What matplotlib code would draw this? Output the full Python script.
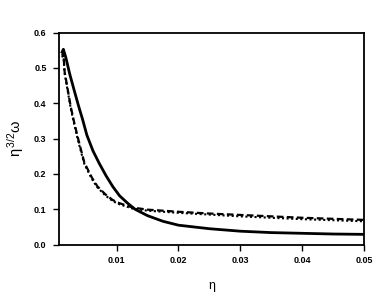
import matplotlib
matplotlib.use("Agg")
import matplotlib.pyplot as plt

plt.rcParams['font.family'] = ['Liberation Sans', 'DejaVu Sans']
plt.rcParams['mathtext.fontset'] = 'dejavusans'

# solid curve
x1 = [0.0012, 0.0014, 0.0018, 0.0024, 0.0031, 0.0039, 0.0045, 0.0052, 0.0062, 0.0072,
      0.0083, 0.0094, 0.0105, 0.0118, 0.013, 0.015, 0.0175, 0.02, 0.025, 0.03,
      0.035, 0.04, 0.045, 0.05]
y1 = [0.545, 0.553, 0.53, 0.485, 0.44, 0.39, 0.355, 0.31, 0.265, 0.23,
      0.195, 0.164, 0.138, 0.117, 0.10, 0.082, 0.066, 0.055, 0.045, 0.038,
      0.034, 0.032, 0.030, 0.029]

# dashed curve
x2 = [0.0012, 0.0014, 0.0016, 0.0021, 0.0026, 0.0031, 0.0037, 0.0043, 0.0048, 0.006,
      0.0069, 0.0082, 0.0094, 0.0105, 0.0126, 0.015, 0.02, 0.025, 0.03, 0.035,
      0.04, 0.045, 0.05]
y2 = [0.535, 0.545, 0.49, 0.44, 0.39, 0.35, 0.306, 0.265, 0.232, 0.19,
      0.165, 0.142, 0.126, 0.117, 0.105, 0.099, 0.093, 0.088, 0.084, 0.080,
      0.076, 0.073, 0.070]

# dotted curve
x3 = [0.0012, 0.0014, 0.0016, 0.0021, 0.0026, 0.0031, 0.0037, 0.0043, 0.0048, 0.006,
      0.0069, 0.0082, 0.0094, 0.0105, 0.0126, 0.015, 0.02, 0.025, 0.03, 0.035,
      0.04, 0.045, 0.05]
y3 = [0.53, 0.54, 0.485, 0.435, 0.385, 0.345, 0.30, 0.26, 0.228, 0.186,
      0.162, 0.139, 0.123, 0.114, 0.102, 0.096, 0.090, 0.085, 0.080, 0.076,
      0.072, 0.069, 0.066]

xticks = [0.01, 0.02, 0.03, 0.04, 0.05]
yticks = [0.0, 0.1, 0.2, 0.3, 0.4, 0.5, 0.6]

fig = plt.figure(figsize=(3.82, 2.97), dpi=100)
ax = fig.add_axes([0.1545, 0.1764, 0.7985, 0.7136])

ax.plot(x1, y1, color='black', lw=2.0, ls='-')
ax.plot(x2, y2, color='black', lw=1.6, ls=(0, (3, 1.5)))
ax.plot(x3, y3, color='black', lw=1.5, ls=(0, (1, 1.2)))

ax.set_xlim(0.0007, 0.05)
ax.set_ylim(0.0, 0.6)
ax.set_xticks(xticks)
ax.set_yticks(yticks)
ax.set_xticklabels(['%.2f' % v for v in xticks], fontsize=6.5, fontweight='bold')
ax.set_yticklabels(['%.1f' % v for v in yticks], fontsize=6.5, fontweight='bold')
ax.tick_params(axis='x', direction='out', length=4, width=1, pad=4)
ax.tick_params(axis='y', direction='out', length=4, width=1, pad=5)
for s in ax.spines.values():
    s.set_linewidth(1.3)

ax.set_xlabel('η', fontsize=9, labelpad=11)
ax.set_ylabel(r'$\mathregular{\eta^{\,3/2}\omega}$', fontsize=10.5, labelpad=6)

fig.savefig('out.png', dpi=100)
